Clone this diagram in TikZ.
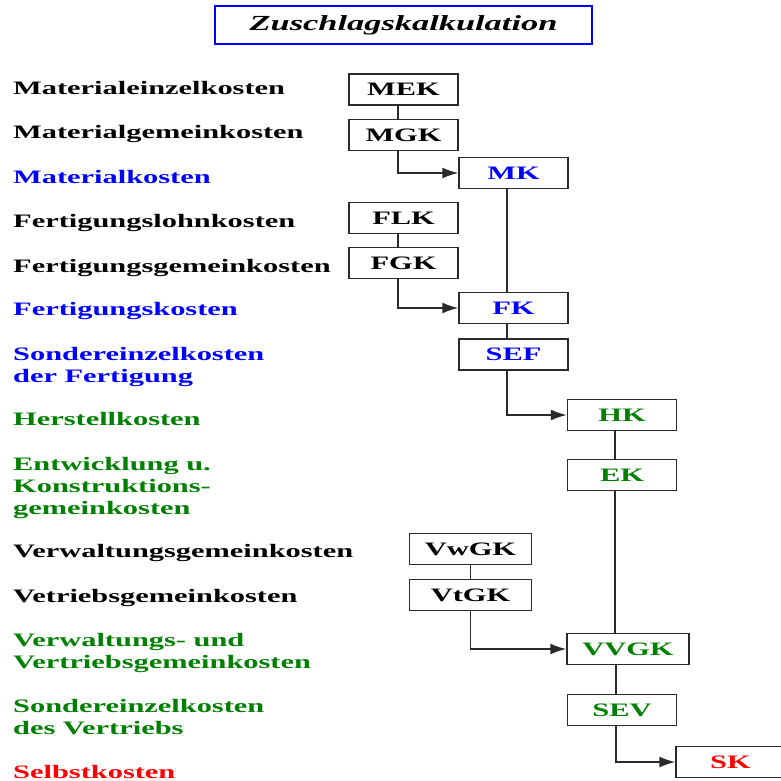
\documentclass[tikz,border=0pt]{standalone}
\usepackage{xcolor}
\usepackage{fontspec}
\usepackage{tikz}
\usetikzlibrary{arrows.meta,positioning}
\newfontfamily\zkfont[FakeStretch=1.6]{Liberation Serif}
\definecolor{zkblue}{HTML}{0000FF}
\definecolor{zkgreen}{HTML}{008000}
\definecolor{zkred}{HTML}{FF0000}
\definecolor{zkline}{HTML}{2A2A2A}
\tikzset{
  every node/.style={font=\zkfont\bfseries\fontsize{19}{22}\selectfont},
  kbox/.style={draw=zkline,line width=1.5pt,fill=white,minimum width=109pt,
               minimum height=31pt,inner sep=0pt},
  wbox/.style={kbox,minimum width=122pt},
  lab/.style={anchor=base west,align=left,inner sep=0pt},
  ln/.style={draw=zkline,line width=1.5pt},
  ar/.style={ln,-{Latex[length=16pt,width=11pt]}},
}
\begin{document}
\begin{tikzpicture}[x=1pt,y=-1pt]
\useasboundingbox[fill=white] (0,0) rectangle (781,781);
\node[draw=zkblue,line width=2pt,minimum width=377pt,minimum height=38pt,inner sep=0pt,
      font=\zkfont\bfseries\itshape\fontsize{21.5}{24}\selectfont] (title) at (403.5,25) {Zuschlagskalkulation};

% labels on the left (base = last line)
\node[lab] (l1) at (13,95) {Materialeinzelkosten};
\node[lab] (l2) at (13,139) {Materialgemeinkosten};
\node[lab,zkblue] (l3) at (13,183) {Materialkosten};
\node[lab] (l4) at (13,227) {Fertigungslohnkosten};
\node[lab] (l5) at (13,272) {Fertigungsgemeinkosten};
\node[lab,zkblue] (l6) at (13,315) {Fertigungskosten};
\node[lab,zkblue] (l7) at (13,382) {Sondereinzelkosten\\der Fertigung};
\node[lab,zkgreen] (l8) at (13,425) {Herstellkosten};
\node[lab,zkgreen] (l9) at (13,514) {Entwicklung u.\\Konstruktions-\\gemeinkosten};
\node[lab] (l10) at (13,557) {Verwaltungsgemeinkosten};
\node[lab] (l11) at (13,602) {Vetriebsgemeinkosten};
\node[lab,zkgreen] (l12) at (13,668) {Verwaltungs- und\\Vertriebsgemeinkosten};
\node[lab,zkgreen] (l13) at (13,734) {Sondereinzelkosten\\des Vertriebs};
\node[lab,zkred] (l14) at (13,778) {Selbstkosten};

% boxes
\node[kbox] (mek) at (403.5,89.5) {MEK};
\node[kbox] (mgk) at (403.5,135) {MGK};
\node[kbox,text=zkblue] (mk) at (513.5,173) {MK};
\node[kbox] (flk) at (403.5,218) {FLK};
\node[kbox] (fgk) at (403.5,263) {FGK};
\node[kbox,text=zkblue] (fk) at (513.5,308) {FK};
\node[kbox,text=zkblue] (sef) at (513.5,354.5) {SEF};
\node[kbox,text=zkgreen] (hk) at (622,415) {HK};
\node[kbox,text=zkgreen] (ek) at (622,475) {EK};
\node[wbox] (vwgk) at (470.5,549) {VwGK};
\node[wbox] (vtgk) at (470.5,595) {VtGK};
\node[wbox,text=zkgreen] (vvgk) at (628,649) {VVGK};
\node[kbox,text=zkgreen] (sev) at (622,710) {SEV};
\node[kbox,text=zkred] (sk) at (730.5,762) {SK};

% connectors
\draw[ln] ([xshift=-5.5pt]mek.south) -- ([xshift=-5.5pt]mgk.north);
\draw[ar] ([xshift=-5.5pt]mgk.south) |- (mk.west);
\draw[ln] ([xshift=-6.5pt]mk.south) -- ([xshift=-6.5pt]fk.north);
\draw[ln] ([xshift=-5.5pt]flk.south) -- ([xshift=-5.5pt]fgk.north);
\draw[ar] ([xshift=-5.5pt]fgk.south) |- (fk.west);
\draw[ln] ([xshift=-6.5pt]fk.south) -- ([xshift=-6.5pt]sef.north);
\draw[ar] ([xshift=-6.5pt]sef.south) |- (hk.west);
\draw[ln] ([xshift=-7pt]hk.south) -- ([xshift=-7pt]ek.north);
\draw[ln] ([xshift=-7pt]ek.south) -- ([xshift=-7pt]ek.south |- vvgk.north);
\draw[ln] (vwgk.south) -- (vtgk.north);
\draw[ar] (vtgk.south) |- (vvgk.west);
\draw[ln] ([xshift=-6pt]sev.north |- vvgk.south) -- ([xshift=-6pt]sev.north);
\draw[ar] ([xshift=-6pt]sev.south) |- (sk.west);
\end{tikzpicture}
\end{document}
